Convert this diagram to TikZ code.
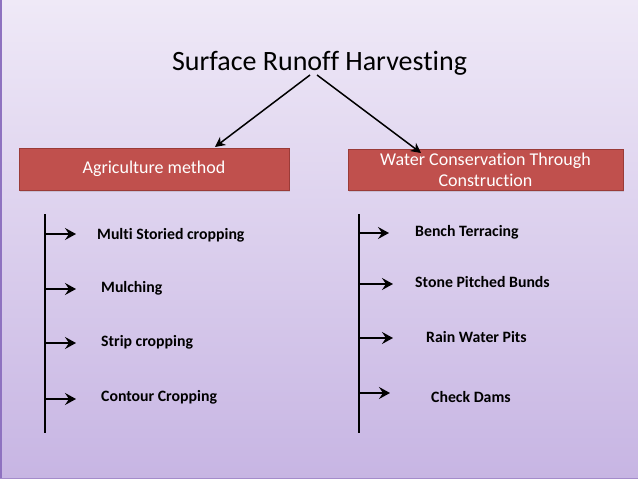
\documentclass[tikz,border=0pt]{standalone}
\usepackage{fontspec}
\setmainfont{Carlito}[Ligatures=NoCommon]
\usetikzlibrary{arrows.meta,shadows}
\definecolor{bgtop}{HTML}{EFE9F7}
\definecolor{bgbot}{HTML}{C7B5E3}
\definecolor{boxred}{HTML}{C0504D}
\definecolor{boxedge}{HTML}{9A3B38}
\definecolor{frameleft}{HTML}{8E72C0}
\definecolor{framebot}{HTML}{A48CCB}
\tikzset{
  headbox/.style={draw=boxedge, line width=0.8pt, fill=boxred, text=white,
    font=\fontsize{18}{21}\selectfont, align=center, inner sep=0pt,
    drop shadow={shadow xshift=1pt, shadow yshift=-1.5pt, opacity=0.25}},
  item/.style={anchor=west, font=\fontsize{15.8}{18}\selectfont\bfseries, inner sep=0pt},
  conn/.style={line width=1.5pt, -{Stealth[length=10pt,width=10pt,inset=3pt]}},
  spine/.style={line width=1.7pt},
  tick/.style={line width=2.2pt, -{Stealth[length=11pt,width=12pt,inset=4pt]}}
}
\begin{document}
\begin{tikzpicture}[x=1pt,y=-1pt]
\useasboundingbox (0,0) rectangle (638,479);
\shade[top color=bgtop, bottom color=bgbot] (0,0) rectangle (638,479);
\fill[frameleft] (0,0) rectangle (1.5,479);
\fill[framebot] (0,477.5) rectangle (638,479);

\node[font=\fontsize{28}{32}\selectfont] (title) at (319.5,63) {Surface Runoff Harvesting};

\node[headbox, minimum width=270pt, minimum height=42pt] (agri) at (154,169) {Agriculture method};
\node[headbox, minimum width=275pt, minimum height=41pt] (water) at (485.5,169.5) {Water Conservation Through\\Construction};

\coordinate (ts1) at (310,75);
\coordinate (ts2) at (317,75);
\coordinate (ae) at (215,147);
\coordinate (we) at (421,153);
\draw[conn] (ts1) -- (ae);
\draw[conn] (ts2) -- (we);

% left spine
\coordinate (l0) at (45,214);
\coordinate (l1) at (45,433);
\draw[spine] (l0) -- (l1);
\coordinate (la1) at (45,234); \coordinate (lb1) at (76,234);
\coordinate (la2) at (45,289); \coordinate (lb2) at (76,289);
\coordinate (la3) at (45,343); \coordinate (lb3) at (76,343);
\coordinate (la4) at (45,399); \coordinate (lb4) at (76,399);
\foreach \i in {1,...,4} { \draw[tick] (la\i) -- (lb\i); }

\node[item] (i1) at (97,235) {Multi Storied cropping};
\node[item] (i2) at (101,288) {Mulching};
\node[item] (i3) at (101,342) {Strip cropping};
\node[item] (i4) at (101,397) {Contour Cropping};

% right spine
\coordinate (r0) at (359,214);
\coordinate (r1) at (359,433);
\draw[spine] (r0) -- (r1);
\coordinate (ra1) at (359,233); \coordinate (rb1) at (389,233);
\coordinate (ra2) at (359,284); \coordinate (rb2) at (393,284);
\coordinate (ra3) at (359,338); \coordinate (rb3) at (393,338);
\coordinate (ra4) at (359,393); \coordinate (rb4) at (390,393);
\foreach \i in {1,...,4} { \draw[tick] (ra\i) -- (rb\i); }

\node[item] (j1) at (415,232) {Bench Terracing};
\node[item] (j2) at (415,282) {Stone Pitched Bunds};
\node[item] (j3) at (426,337) {Rain Water Pits};
\node[item] (j4) at (431,397) {Check Dams};
\end{tikzpicture}
\end{document}
